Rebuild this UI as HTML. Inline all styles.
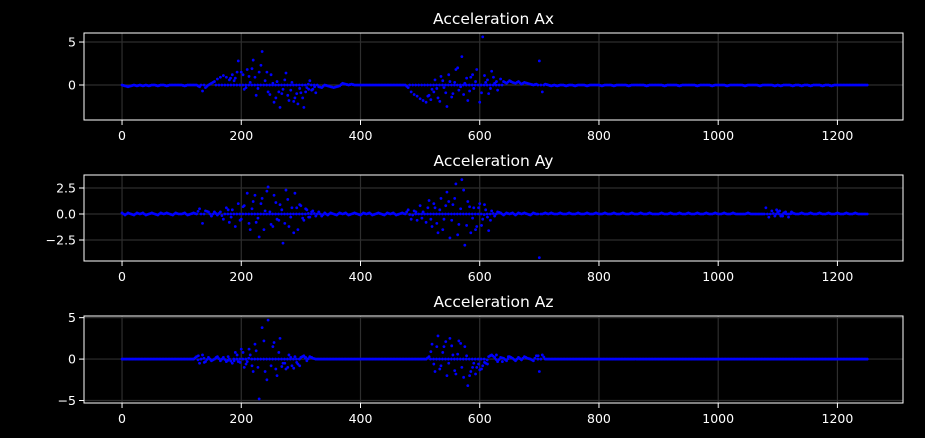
<!DOCTYPE html>
<html><head><meta charset="utf-8">
<style>
html,body{margin:0;padding:0;background:#000;}
svg{display:block;}
text{font-family:"DejaVu Sans","Liberation Sans",sans-serif;fill:#fff;}
</style></head>
<body>
<svg id="fig" width="925" height="438" xmlns="http://www.w3.org/2000/svg"></svg>
<script>
// ---- data (value every 5 samples, lines = 100 samples) ----
const sampleStep = 5;
const sampleCount = 251;
const xTicks = [0, 200, 400, 600, 800, 1000, 1200];
const axYTicks = [5, 0];
const ayYTicks = [2.5, 0, -2.5];
const azYTicks = [5, 0, -5];
const axYTickLabels = ["5", "0"];
const ayYTickLabels = ["2.5", "0.0", "\u22122.5"];
const azYTickLabels = ["5", "0", "\u22125"];
const titles = ["Acceleration Ax", "Acceleration Ay", "Acceleration Az"];

const axValues = [
0,-0.1,-0.2,-0.1,0,-0.1,0,-0.1,0,-0.1,0,0,-0.1,0,0,-0.1,0,0,0,0,
0,-0.1,0,0,0,0,-0.2,-0.7,-0.3,0,0.2,0.4,0.7,0.9,1.1,0.9,0.6,1.2,0.8,2.8,
1.5,-0.5,1.8,0.3,2.9,-1.2,1.5,3.9,0.5,-0.8,1.2,-2.0,0.4,-2.6,-0.5,1.4,-1.8,0.3,-1.5,-2.2,
-0.9,-2.6,-0.3,0.5,-0.5,-0.9,-0.2,-0.3,0,-0.1,-0.2,-0.3,-0.2,-0.1,0.2,0.1,0,0.1,0,0,
0,0,0,0,0,0,0,0,0,0,0,0,0,0,0,0,-0.3,-0.8,-1.1,-1.3,
-1.6,-1.8,-2.0,-1.2,-0.5,0.6,-1.5,1.0,-0.3,-2.5,0.4,-1.0,1.8,-0.6,3.3,0.2,-1.8,0.9,-0.4,1.8,
-2.0,5.6,0.3,-1.0,1.6,0.2,-0.6,0.7,0.4,0.2,0.5,0.3,0.2,0.4,0.1,0.3,0.2,0.1,0,0.1,
2.8,-0.8,0.1,0,-0.1,0,-0.1,0,0,-0.1,0,0,-0.1,0,0,0,-0.1,0,0,0,
0,-0.1,0,0,0,-0.1,0,0,0,0,-0.1,0,0,0,0,0,-0.1,0,0,0,
0,0,-0.1,0,0,0,0,-0.1,0,0,0,0,0,-0.1,0,0,0,0,-0.1,0,
0,0,0,-0.1,0,0,0,0,0,-0.1,0,0,0,0,-0.1,0,0,0,0,-0.1,
0,-0.1,0,0,0,-0.1,0,0,-0.1,0,0,-0.1,0,0,0,-0.1,0,0,-0.1,0,
0,0,0,0,0,0,0,0,0,0,0
];
const axExtraX = [182,188,193,203,208,213,218,223,228,233,243,248,253,258,263,268,273,278,283,288,293,298,303,308,313,318,323,513,518,523,528,533,538,543,548,553,558,563,568,573,578,583,588,593,603,608,613,618,623,628];
const axExtraY = [0.8,0.5,1.5,1.2,-0.3,1.0,1.9,0.9,-0.4,2.3,1.5,-1.1,0.2,-1.5,-0.8,-1.0,0.6,-1.2,-0.6,-1.9,-1.0,-0.4,-1.5,-0.8,-0.5,-0.6,-0.2,-1.3,-1.7,-0.8,-0.4,-1.9,0.5,-0.9,1.2,-1.4,0.3,2.0,-0.2,-1.1,0.8,-0.7,1.2,0.4,-0.9,1.1,0.6,-0.4,0.9,0.4];

const ayValues = [
0.1,-0.1,0.1,0,-0.1,0.1,0,0.1,-0.1,0,0.1,0,-0.1,0.1,0,0.1,0,-0.1,0.1,0,
0,0.1,-0.1,0,0.1,0,0.5,-0.9,0.3,0.2,-0.2,0.2,-0.1,0.2,-0.5,0.6,-0.8,0.4,-1.2,1.0,
-0.5,0.8,2.0,-1.5,1.2,-0.8,-2.2,1.5,0.3,2.6,-1.0,1.8,-0.5,0.9,-2.8,2.3,-1.2,0.6,2.0,-1.5,
0.8,-0.6,0.4,-0.3,0.3,-0.2,0.2,-0.2,0.1,-0.1,0.1,0,-0.1,0.1,0,0.1,-0.1,0,0.1,0,
-0.1,0.1,0,0.1,-0.1,0,0.1,0,-0.1,0.1,0,0.1,-0.1,0,0.1,0,0.4,-0.5,0.3,-0.6,
0.8,0.2,-0.8,1.3,-1.2,0.6,-1.8,1.5,-0.5,2.1,-2.3,0.9,2.9,-1.0,3.3,-3.0,1.2,-1.8,0.6,-1.2,
1.0,-0.5,0.4,-1.6,0.3,-0.2,0.2,0.1,-0.1,0.1,0,0.1,-0.1,0.1,0,0.1,0,-0.1,0.1,0,
-4.2,0,0.1,0,0.1,0,0,0.1,0,0,0.1,0,0,0.1,0,0,0.1,0,0,0.1,
0,0,0.1,0,0,0.1,0,0,0.1,0,0,0.1,0,0,0.1,0,0,0.1,0,0,
0,0.1,0,0,0.1,0,0,0.1,0,0,0.1,0,0,0.1,0,0,0.1,0,0,0.1,
0,0,0.1,0,0,0.1,0,0,0,0,0.1,0,0,0,0,0,0.6,-0.3,0.3,-0.2,
0.2,-0.2,0.1,0,0,0.1,0,0,0.1,0,0,0.1,0,0,0.1,0,0,0.1,0,0,
0.1,0,0,0.1,0,0,0.1,0,0,0,0
];
const ayExtraX = [178,183,198,203,213,218,223,228,233,238,243,248,253,258,263,268,273,278,283,288,293,298,303,308,313,318,493,503,513,518,523,528,533,538,543,548,553,558,563,568,573,578,583,588,593,598,603,608,613,618,1098,1103,1108,1113,1118,1123];
const ayExtraY = [0.4,-0.3,-0.6,0.7,-0.9,0.5,1.8,-0.4,1.0,-1.5,2.2,0.2,-1.2,1.1,-0.6,0.4,-0.9,1.4,-0.3,-1.8,0.6,0.9,-0.4,0.5,-0.3,0.2,0.2,-0.4,0.6,-0.5,1.0,-0.9,0.4,-1.5,0.8,1.2,-0.6,1.5,-2.0,0.5,2.3,-1.1,0.7,-0.4,-1.5,0.6,-1.1,0.9,-0.3,-0.6,0.4,0.3,-0.2,0.2,-0.3,0.2];

const azValues = [
0,0,0,0,0,0,0,0,0,0,0,0,0,0,0,0,0,0,0,0,
0,0,0,0,0,0.3,-0.5,0.5,-0.3,0.2,-0.2,0,0.3,-0.2,0.2,-0.3,0,-0.5,0.8,-0.3,
1.2,-1.0,-0.3,0.5,-1.5,1.0,-4.8,3.8,-1.5,4.7,-0.8,2.0,-2.0,2.5,-0.5,-1.2,0.5,-0.8,0.3,-0.6,
0.2,0.4,-0.2,0.3,0.1,0,0,0,0,0,0,0,0,0,0,0,0,0,0,0,
0,0,0,0,0,0,0,0,0,0,0,0,0,0,0,0,0,0,0,0,
0,0,0,0.3,1.8,-1.5,2.8,-0.8,1.5,-2.0,2.5,0.5,-1.8,2.2,-1.0,1.5,-3.2,-1.5,-0.5,-1.0,
-1.3,-0.8,-0.5,0.3,0.5,0.2,-0.3,0.2,0.1,-0.2,0.3,0.1,-0.2,0.2,-0.1,0.3,0.1,0,-0.2,0.4,
-1.5,0.5,0,0,0,0,0,0,0,0,0,0,0,0,0,0,0,0,0,0,
0,0,0,0,0,0,0,0,0,0,0,0,0,0,0,0,0,0,0,0,
0,0,0,0,0,0,0,0,0,0,0,0,0,0,0,0,0,0,0,0,
0,0,0,0,0,0,0,0,0,0,0,0,0,0,0,0,0,0,0,0,
0,0,0,0,0,0,0,0,0,0,0,0,0,0,0,0,0,0,0,0,
0,0,0,0,0,0,0,0,0,0,0
];
const azExtraX = [128,138,158,178,188,193,198,203,208,213,218,223,228,238,243,253,258,263,268,273,278,283,288,293,298,303,308,318,518,523,528,533,538,543,548,553,558,563,568,573,578,583,588,593,598,603,608,613,618,628,638,648,698];
const azExtraY = [0.4,-0.4,0.2,0.3,-0.2,0.5,-0.4,0.8,-0.6,1.2,-0.8,1.8,-1.0,2.2,-2.5,1.5,-1.2,0.8,-0.9,-0.5,-1.0,0.2,-1.1,-0.4,-0.8,0.3,0.2,0.2,0.9,-0.6,1.5,-1.2,0.8,2.1,-0.5,1.6,-1.4,0.6,1.9,-2.2,0.4,-2.0,-1.0,-1.8,-0.6,-1.2,-0.4,-0.6,0.4,0.5,-0.3,0.3,0.4];

// ---- layout ----
const NS = "http://www.w3.org/2000/svg";
const svg = document.getElementById("fig");
const panels = [
  {name:"ax", title:titles[0], top:33, bottom:120, ymin:-4.07, ymax:6.05, vals:axValues, ex:axExtraX, ey:axExtraY, ticks:axYTicks, labels:axYTickLabels},
  {name:"ay", title:titles[1], top:175, bottom:261, ymin:-4.52, ymax:3.75, vals:ayValues, ex:ayExtraX, ey:ayExtraY, ticks:ayYTicks, labels:ayYTickLabels},
  {name:"az", title:titles[2], top:316, bottom:403, ymin:-5.3, ymax:5.2, vals:azValues, ex:azExtraX, ey:azExtraY, ticks:azYTicks, labels:azYTickLabels}
];
const left = 84, right = 903, xmin = -63.8, xmax = 1310;
function xs(v){ return left + (v - xmin) / (xmax - xmin) * (right - left); }

function mk(tag, attrs, parent){
  const e = document.createElementNS(NS, tag);
  for (const k in attrs) e.setAttribute(k, attrs[k]);
  (parent || svg).appendChild(e);
  return e;
}

panels.forEach(p => {
  const ys = v => p.bottom - (v - p.ymin) / (p.ymax - p.ymin) * (p.bottom - p.top);
  const g = mk("g", {});
  
  
  xTicks.forEach(t => {
    const l = mk("line", {x1:xs(t), x2:xs(t), y1:p.top, y2:p.bottom, stroke:"#2e2e2e", "stroke-width":1.2}, g);
    
    
  });
  p.ticks.forEach(t => {
    const l = mk("line", {x1:left, x2:right, y1:ys(t), y2:ys(t), stroke:"#2e2e2e", "stroke-width":1.2}, g);
    
    
  });
  const pts = mk("g", {fill:"#0000ff"}, g);
  
  
  const n = Math.min(sampleCount, p.vals.length);
  for (let i = 0; i < n; i++) {
    const c = mk("circle", {cx:xs(i*sampleStep), cy:ys(p.vals[i]), r:1.4}, pts);
    
    
    if (i < n - 1) {
      const a = p.vals[i], b = p.vals[i+1];
      const small = Math.abs(a) < 0.6 && Math.abs(b) < 0.6;
      const c2 = mk("circle", {cx:xs(i*sampleStep+2.5), cy:ys(small ? (a+b)/2 : 0), r:1.4}, pts);
      
      
    }
  }
  for (let i = 0; i < p.ex.length; i++) {
    const c = mk("circle", {cx:xs(p.ex[i]), cy:ys(p.ey[i]), r:1.4}, pts);
    
    
  }
  const fr = mk("rect", {x:left, y:p.top, width:right-left, height:p.bottom-p.top, fill:"none", stroke:"#fff", "stroke-width":1}, g);
  
  
  xTicks.forEach(t => {
    const tk = mk("line", {x1:xs(t), x2:xs(t), y1:p.bottom, y2:p.bottom+5, stroke:"#fff", "stroke-width":1}, g);
    
    
    const tx = mk("text", {x:xs(t), y:p.bottom+20, "font-size":12.5, "text-anchor":"middle"}, g);
    tx.textContent = String(t);
    
    
  });
  p.ticks.forEach((t, i) => {
    const tk = mk("line", {x1:left-5, x2:left, y1:ys(t), y2:ys(t), stroke:"#fff", "stroke-width":1}, g);
    
    
    const tx = mk("text", {x:left-8, y:ys(t)+4.5, "font-size":12.5, "text-anchor":"end"}, g);
    tx.textContent = p.labels[i];
    
    
  });
  const ti = mk("text", {x:(left+right)/2, y:p.top-9, "font-size":15.5, "text-anchor":"middle"}, g);
  ti.textContent = p.title;
  
  
});
</script>
</body></html>
